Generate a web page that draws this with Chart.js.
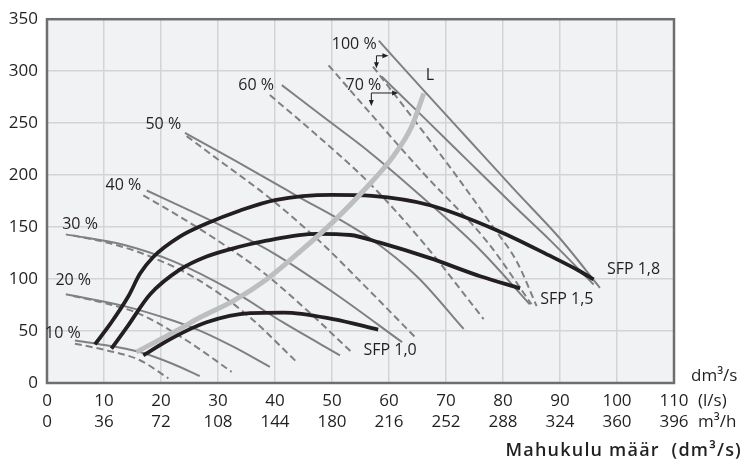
<!DOCTYPE html>
<html>
<head>
<meta charset="utf-8">
<script src="https://cdn.jsdelivr.net/npm/chart.js@4.4.0/dist/chart.umd.min.js"></script>
<style>
  body { margin: 0; background: #fff; }
  #wrap { width: 744px; height: 463px; }
</style>
</head>
<body>
<div id="wrap"><canvas id="chart"></canvas></div>
<script>
// Tick labels: air flow in dm3/s (= l/s) and the same values in m3/h
const flowTicks = [0, 10, 20, 30, 40, 50, 60, 70, 80, 90, 100, 110];
const m3hTicks = [0, 36, 72, 108, 144, 180, 216, 252, 288, 324, 360, 396];

// Fan curves, [flow dm3/s, pressure Pa]
const fan10 = [[4.9, 40.9], [8.7, 37.8], [16.3, 29.8], [22, 18.5], [26.8, 6.7]];
const fan10d = [[4.9, 37.8], [10.5, 31.4], [16.3, 21.9], [21.3, 4.5]];
const fan20 = [[3.3, 85.3], [13.4, 74.2], [22.2, 59.9], [26.8, 50.4], [33, 34], [39.1, 15.5]];
const fan20d = [[4.6, 83.7], [10, 77], [16.3, 66.3], [24.5, 40.9], [32.4, 10.7]];
const fan30 = [[3.3, 143], [13.4, 133], [22.2, 117], [32.4, 89], [41.5, 58], [51.4, 26.6]];
const fan30d = [[4.6, 142], [12, 133], [18.1, 121.7], [26, 101], [35, 66], [43.8, 20.3]];
const fan40 = [[17.5, 185.2], [25, 166], [32.7, 145.5], [40, 124], [50, 88], [62.3, 39.3]];
const fan40d = [[16.9, 180.4], [23, 161], [29.8, 137.6], [38, 106], [46, 68], [53.4, 29.8]];
const fan50 = [[24.2, 240.6], [33, 214], [43.2, 182], [56.7, 139], [65, 102], [73.1, 52]];
const fan50d = [[24.5, 237.5], [31, 211], [38.5, 180.4], [47.9, 136], [56, 92], [64.6, 44]];
const fan60 = [[41.2, 286.6], [48, 258], [56.7, 221.6], [66, 178], [76, 128], [84.7, 75.8]];
const fan60d = [[39.1, 277], [47, 240], [56.7, 191.5], [66, 135], [76.6, 61.5]];
const fan70 = [[58.7, 294.8], [66, 256], [74, 213], [82, 170], [88.5, 136], [95.9, 94.8]];
const fan70d = [[49.4, 305.6], [56.7, 259.6], [66, 202], [77.2, 136], [85, 75.8]];
const fan100 = [[58.2, 329.4], [66, 282], [74, 234], [82, 186], [90, 139], [97, 91.6]];
const fan100d = [[57.2, 304.4], [64, 256], [72, 198], [78, 152], [82.5, 116], [85.9, 74]];

// SFP limit curves
const sfp10 = [[16.9, 26.6], [22.2, 44], [28, 58.5], [35.6, 67.2], [41.5, 67.8], [50.2, 61.5], [58.1, 51.4]];
const sfp15 = [[11.3, 33], [14, 53.5], [18.1, 85.3], [23.3, 109], [28, 121.7], [33.9, 131.3], [38.5, 137],
  [47.3, 143.5], [53.2, 142.4], [58.4, 135], [67.2, 120.1], [76, 102.7], [83, 91]];
const sfp18 = [[8.4, 37.1], [11.1, 56.8], [14.3, 83.7], [16.3, 105], [18.6, 121], [23.3, 140.8], [28, 153.4],
  [33.9, 166], [40, 176], [50, 181], [57, 180], [67.2, 171], [78.9, 147], [88, 123], [93.5, 107.5], [95.9, 99.6]];

// L curve
const lCurve = [[15.7, 29.8], [23.3, 52], [26.8, 63], [32.7, 79], [38.5, 99.6], [44.4, 126.5], [50.2, 155],
  [56.1, 188.3], [60.8, 218.5], [64, 247], [66.1, 278.7]];

// Curve labels in data units
const curveLabels = [
  ['10 %', 2.8, 47.6], ['20 %', 4.6, 98.9], ['30 %', 5.8, 152.2], ['40 %', 13.4, 190.2],
  ['50 %', 20.4, 249.2], ['60 %', 36.7, 286.3], ['70 %', 55.5, 286.6], ['100 %', 53.9, 325.6],
  ['L', 67.2, 295.8], ['SFP 1,0', 60.2, 31.4], ['SFP 1,5', 91.2, 80.8], ['SFP 1,8', 102.9, 109.4]
];
// Small arrows next to 100 % and 70 %: corner, end to the right, end downward
const arrows = [
  [57.8, 314.8, 59.9, 302.7],
  [56.9, 279, 61.6, 266.4]
];

const FONT = '"Open Sans", Lato, sans-serif';
const TEXT = '#231f20';
const GREY = '#7e8083';

function line(points, color, width, dash) {
  return {
    data: points.map(([x, y]) => ({ x, y })),
    showLine: true,
    borderColor: color,
    borderWidth: width,
    borderDash: dash || [],
    pointRadius: 0,
    fill: false,
    cubicInterpolationMode: 'monotone',
    borderCapStyle: 'butt'
  };
}

const datasets = [
  line(lCurve, '#bdbec0', 5),
  line(sfp10, TEXT, 3.8),
  line(sfp15, TEXT, 3.8),
  line(sfp18, TEXT, 3.8)
];
[fan10, fan20, fan30, fan40, fan50, fan60, fan70, fan100].forEach(f => datasets.push(line(f, GREY, 2)));
[fan10d, fan20d, fan30d, fan40d, fan50d, fan60d, fan70d, fan100d].forEach(f => datasets.push(line(f, GREY, 2, [7, 4])));

const decor = {
  id: 'decor',
  beforeDraw(chart) {
    const { ctx, chartArea: a } = chart;
    ctx.save();
    ctx.fillStyle = '#f1f2f4';
    ctx.fillRect(a.left, a.top, a.right - a.left, a.bottom - a.top);
    ctx.restore();
  },
  afterDraw(chart) {
    const { ctx, chartArea: a, scales } = chart;
    const sx = v => scales.x.getPixelForValue(v);
    const sy = v => scales.y.getPixelForValue(v);
    ctx.save();
    ctx.strokeStyle = '#6d6e71';
    ctx.lineWidth = 2.5;
    ctx.strokeRect(a.left, a.top, a.right - a.left, a.bottom - a.top);

    ctx.fillStyle = TEXT;
    ctx.font = '16px ' + FONT;
    ctx.textAlign = 'center';
    ctx.textBaseline = 'middle';
    curveLabels.forEach(([t, x, y]) => ctx.fillText(t, sx(x), sy(y)));

    // arrows
    ctx.strokeStyle = TEXT;
    ctx.lineWidth = 1;
    arrows.forEach(([cx, cy, rx, dy]) => {
      const x0 = sx(cx), y0 = sy(cy), x1 = sx(rx), y1 = sy(dy);
      ctx.beginPath();
      ctx.moveTo(x0, y1 - 3);
      ctx.lineTo(x0, y0);
      ctx.lineTo(x1 - 4, y0);
      ctx.stroke();
      ctx.beginPath();
      ctx.moveTo(x1, y0); ctx.lineTo(x1 - 6, y0 - 2.5); ctx.lineTo(x1 - 6, y0 + 2.5); ctx.closePath();
      ctx.moveTo(x0, y1); ctx.lineTo(x0 - 2.5, y1 - 6); ctx.lineTo(x0 + 2.5, y1 - 6); ctx.closePath();
      ctx.fill();
    });

    // unit captions and axis title
    ctx.font = '17px ' + FONT;
    ctx.textAlign = 'left';
    ctx.fillText('dm³/s', 691, 376);
    ctx.fillText('(l/s)', 698, 401);
    ctx.fillText('m³/h', 698, 422);
    ctx.font = '600 18px ' + FONT;
    ctx.letterSpacing = '1.2px';
    ctx.textAlign = 'right';
    ctx.fillText('Mahukulu määr  (dm³/s)', 742, 451);
    ctx.restore();
  }
};

new Chart(document.getElementById('chart'), {
  type: 'scatter',
  data: { datasets },
  plugins: [decor],
  options: {
    responsive: true,
    maintainAspectRatio: false,
    animation: false,
    layout: { padding: { top: 15, right: 70, left: 0, bottom: 0 } },
    plugins: { legend: { display: false }, tooltip: { enabled: false } },
    scales: {
      x: {
        type: 'linear',
        min: 0,
        max: 110,
        afterBuildTicks: s => { s.ticks = flowTicks.map(v => ({ value: v })); },
        afterFit: s => { s.height = 80; },
        grid: { color: '#d3d4d6', lineWidth: 1.5, drawTicks: false },
        border: { display: false },
        ticks: {
          autoSkip: false,
          maxRotation: 0,
          padding: 7,
          color: TEXT,
          font: { family: FONT, size: 17, lineHeight: 1.27 },
          callback: (v, i) => [String(flowTicks[i]), String(m3hTicks[i])]
        }
      },
      y: {
        min: 0,
        max: 350,
        afterFit: s => { s.width = 47; },
        grid: { color: '#d3d4d6', lineWidth: 1.5, drawTicks: false },
        border: { display: false },
        ticks: {
          stepSize: 50,
          padding: 9,
          color: TEXT,
          font: { family: FONT, size: 17 }
        }
      }
    }
  }
});
</script>
</body>
</html>
